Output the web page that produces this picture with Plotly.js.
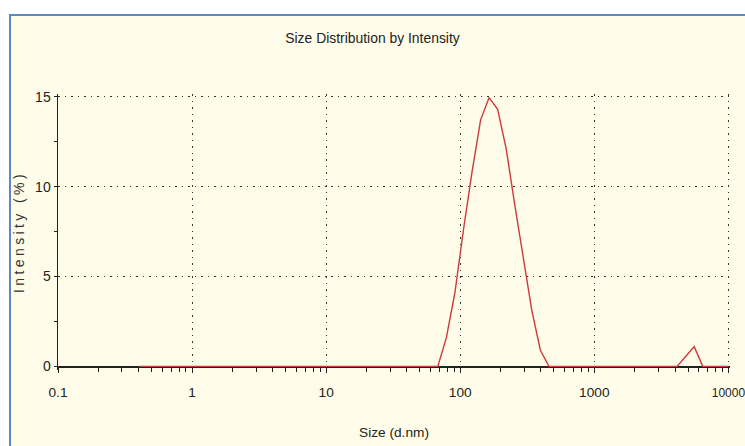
<!DOCTYPE html>
<html>
<head>
<meta charset="utf-8">
<script src="https://cdn.plot.ly/plotly-3.0.1.min.js"></script>
<style>
  html, body { margin: 0; padding: 0; background: #ffffff; }
  #frame { position: absolute; left: 9px; top: 14px; width: 760px; height: 460px;
           background: #fffde9; border-top: 2px solid #5b88c6; border-left: 2px solid #5b88c6; }
  #chart { position: absolute; left: 0; top: 0; width: 745px; height: 446px; }
  #chart .ytitle { letter-spacing: 3.4px; }
</style>
</head>
<body>
<div id="frame"></div>
<div id="chart"></div>
<script>
// Size classes (d.nm)
const sizes = [0.4, 0.4632, 0.5365, 0.6213, 0.7195, 0.8332, 0.9649, 1.117, 1.294, 1.499,
  1.736, 2.01, 2.328, 2.696, 3.122, 3.615, 4.187, 4.849, 5.615, 6.503,
  7.531, 8.721, 10.1, 11.7, 13.54, 15.69, 18.17, 21.04, 24.36, 28.21,
  32.67, 37.84, 43.82, 50.75, 58.77, 68.06, 78.82, 91.28, 105.7, 122.4,
  141.8, 164.2, 190.1, 220.2, 255.0, 295.3, 342.0, 396.1, 458.7, 531.2,
  615.1, 712.4, 825.0, 955.4, 1106, 1281, 1484, 1718, 1990, 2305,
  2669, 3091, 3580, 4145, 4801, 5560, 6439, 7456, 8635, 10000];
// Intensity (%)
const intensity = [0, 0, 0, 0, 0, 0, 0, 0, 0, 0,
  0, 0, 0, 0, 0, 0, 0, 0, 0, 0,
  0, 0, 0, 0, 0, 0, 0, 0, 0, 0,
  0, 0, 0, 0, 0, 0, 1.6, 4.1, 7.6, 10.8,
  13.7, 14.95, 14.3, 12.1, 9.0, 6.0, 3.1, 0.9, 0, 0,
  0, 0, 0, 0, 0, 0, 0, 0, 0, 0,
  0, 0, 0, 0, 0.55, 1.1, 0, 0, 0, 0];

const xMajorTicks = [0.1, 1, 10, 100, 1000, 10000];
const xMajorLabels = ['0.1', '1', '10', '100', '1000', '10000'];
const xMinorTicks = [];
for (const d of [0.1, 1, 10, 100, 1000]) for (let k = 2; k <= 9; k++) xMinorTicks.push(+(d * k).toPrecision(3));
const xAllTicks = xMajorTicks.concat(xMinorTicks);
const yMajorTicks = [0, 5, 10, 15];
const yMinorTicks = [2.5, 7.5, 12.5];
const yAllTicks = yMajorTicks.concat(yMinorTicks);

const yMin = -0.2, yMax = 15.15;
const xRange = [-1, 4.012];
const axisPos = (0 - yMin) / (yMax - yMin);

const sans = 'Liberation Sans, Arial, sans-serif';
const gridDash = '1.5px,5px';

// the last label sits at the right edge of the window: draw it a little smaller so it fits
const xTickText = xMajorLabels.map((t, i) =>
  i === xMajorLabels.length - 1 ? '<span style="font-size:12px">' + t + '</span>' : t);

const trace = {
  x: sizes, y: intensity, type: 'scatter', mode: 'lines',
  line: {color: '#cc3a3a', width: 1.4}, hoverinfo: 'x+y'
};

const layout = {
  width: 745, height: 446,
  paper_bgcolor: 'rgba(0,0,0,0)', plot_bgcolor: 'rgba(0,0,0,0)',
  margin: {l: 58, r: 15.39, t: 94.31, b: 76.4},
  showlegend: false,
  title: {text: 'Size Distribution by Intensity', font: {family: sans, size: 13.9, color: '#222'},
          x: 0.5, xanchor: 'center', xref: 'container', y: 1 - 38 / 446, yanchor: 'middle'},
  xaxis: {
    type: 'log', range: xRange, anchor: 'free', position: axisPos,
    tickmode: 'array', tickvals: xMajorTicks, ticktext: xTickText,
    ticks: 'outside', ticklen: 5, tickwidth: 1, tickcolor: '#222',
    minor: {tickmode: 'array', tickvals: xMinorTicks, ticks: 'outside', ticklen: 4, tickwidth: 1, tickcolor: '#222', showgrid: false},
    showline: true, linecolor: '#222', linewidth: 1.5, layer: 'below traces',
    showgrid: true, gridcolor: '#333', gridwidth: 1, griddash: gridDash,
    zeroline: false, ticklabelstandoff: 8, ticklabeloverflow: 'allow',
    tickfont: {family: sans, size: 13.7, color: '#222'},
    title: {text: 'Size (d.nm)', font: {family: sans, size: 13.7, color: '#222'}, standoff: 28},
    fixedrange: true
  },
  xaxis2: {
    type: 'log', range: xRange, overlaying: 'x', anchor: 'free', position: axisPos,
    tickmode: 'array', tickvals: xAllTicks, ticks: 'inside', ticklen: 4, tickwidth: 1, tickcolor: '#222',
    showticklabels: false, showgrid: false, showline: false, zeroline: false, layer: 'below traces'
  },
  yaxis: {
    range: [yMin, yMax], anchor: 'x',
    tickmode: 'array', tickvals: yMajorTicks,
    ticks: 'outside', ticklen: 3, tickwidth: 1, tickcolor: '#222',
    minor: {tickmode: 'array', tickvals: yMinorTicks, ticks: 'outside', ticklen: 3, tickwidth: 1, tickcolor: '#222', showgrid: false},
    showline: true, linecolor: '#222', linewidth: 1.5,
    showgrid: true, gridcolor: '#333', gridwidth: 1, griddash: gridDash,
    zeroline: false,
    tickfont: {family: sans, size: 14, color: '#222'},
    title: {text: 'Intensity (%)', font: {family: sans, size: 14, color: '#333'}, standoff: 7},
    fixedrange: true
  },
  yaxis2: {
    range: [yMin, yMax], overlaying: 'y', anchor: 'x', side: 'left',
    tickmode: 'array', tickvals: yAllTicks, ticks: 'inside', ticklen: 4, tickwidth: 1, tickcolor: '#222',
    showticklabels: false, showgrid: false, showline: false, zeroline: false
  }
};

Plotly.newPlot('chart', [trace], layout, {displayModeBar: false, staticPlot: true});
</script>
</body>
</html>
